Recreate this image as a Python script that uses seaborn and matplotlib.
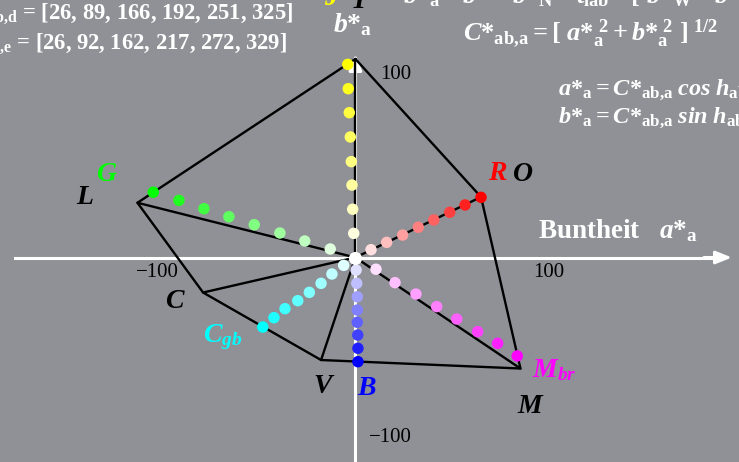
import numpy as np
import pandas as pd
import matplotlib
matplotlib.use("Agg")
import matplotlib.pyplot as plt
import seaborn as sns

# hue angles of the two colour sets (degrees)
hab_d = [26, 89, 166, 192, 251, 325]
hab_e = [26, 92, 162, 217, 272, 329]

# device hexagon in the (a*, b*) plane
vertex_names = ["Y", "O", "M", "V", "C", "L"]
vertex_a = [0.0, 73.9, 97.1, -20.2, -89.6, -128.2]
vertex_b = [116.8, 35.6, -65.3, -60.3, -20.6, 32.2]

# achromatic point N
achromatic_a = [0.0]
achromatic_b = [0.0]

# colour series, steps 1..8 from N outward
series_names = ["J", "R", "G", "Cgb", "B", "Mbr"]
series_rgb = [(1, 1, 0), (1, 0, 0), (0, 1, 0), (0, 1, 1), (0, 0, 1), (1, 0, 1)]
J_a = [-1.0, -1.6, -2.0, -2.4, -3.0, -3.6, -4.2, -4.5]
J_b = [14.2, 28.4, 42.6, 56.4, 70.9, 85.2, 99.3, 113.6]
R_a = [9.2, 18.4, 27.8, 37.0, 46.1, 55.5, 64.5, 73.9]
R_b = [4.6, 8.9, 13.2, 17.8, 22.1, 26.6, 30.9, 35.4]
G_a = [-14.8, -29.8, -44.4, -59.5, -74.4, -89.1, -103.8, -118.9]
G_b = [5.0, 9.7, 14.4, 19.3, 24.0, 28.7, 33.6, 38.4]
Cgb_a = [-6.9, -13.8, -20.2, -27.1, -33.9, -41.4, -47.9, -54.5]
Cgb_b = [-4.6, -9.7, -15.2, -20.5, -25.4, -30.1, -35.4, -40.9]
B_a = [0.4, 0.8, 1.1, 1.1, 1.1, 1.4, 1.5, 1.5]
B_b = [-7.4, -15.2, -23.1, -30.9, -38.1, -45.6, -53.4, -61.3]
Mbr_a = [12.1, 23.3, 35.6, 47.8, 59.6, 71.9, 83.7, 95.2]
Mbr_b = [-6.9, -14.8, -21.5, -28.9, -36.2, -43.6, -50.5, -57.9]

series_a = [J_a, R_a, G_a, Cgb_a, B_a, Mbr_a]
series_b = [J_b, R_b, G_b, Cgb_b, B_b, Mbr_b]

tick_values = [-100, -50, 50, 100]

BG = "#909196"
SERIF = "Liberation Serif"

sns.set_theme(style="white")
plt.rcParams["font.family"] = [SERIF, "DejaVu Sans"]
plt.rcParams["mathtext.fontset"] = "custom"
plt.rcParams["mathtext.rm"] = "Liberation Serif:bold"
plt.rcParams["mathtext.it"] = "Liberation Serif:italic:bold"
plt.rcParams["mathtext.bf"] = "Liberation Serif:bold"

fig = plt.figure(figsize=(7.39, 4.62), dpi=100, facecolor=BG)
ax = fig.add_axes([0, 0, 1, 1], facecolor=BG)
ax.set_xlim(-209.06, 225.65)
ax.set_ylim(-120.29, 151.47)

# axes through the origin
for side in ["top", "right"]:
    ax.spines[side].set_visible(False)
ax.spines["bottom"].set_position(("data", 0))
ax.spines["left"].set_position(("data", 0))
ax.spines["bottom"].set_bounds(-200.2, 214)
ax.spines["left"].set_bounds(-125, 112)
for side in ["bottom", "left"]:
    ax.spines[side].set_color("white")
    ax.spines[side].set_linewidth(2.2)
    ax.spines[side].set_zorder(1)
ax.set_xticks(tick_values)
ax.set_yticks(tick_values)
ax.tick_params(axis="x", direction="inout", length=7.2, width=1.3,
               color="black", labelbottom=False)
ax.tick_params(axis="y", direction="inout", length=11.5, width=1.3,
               color="black", labelleft=False)

arrow = dict(arrowstyle="-|>,head_length=0.8,head_width=0.32", color="white",
             lw=2.2, shrinkA=0, shrinkB=0)
ax.annotate("", xy=(221.5, 0), xytext=(205, 0), arrowprops=arrow, zorder=1.2)
ax.annotate("", xy=(0, 119.7), xytext=(0, 108), arrowprops=arrow, zorder=1.2)

# hexagon outline and spokes from N
hex_df = pd.DataFrame({"a": vertex_a + [vertex_a[0]],
                       "b": vertex_b + [vertex_b[0]]})
sns.lineplot(data=hex_df, x="a", y="b", sort=False, estimator=None,
             color="black", lw=1.7, ax=ax, zorder=3)
spoke_rows = []
for name, va, vb in zip(vertex_names, vertex_a, vertex_b):
    spoke_rows.append({"vertex": name, "a": achromatic_a[0], "b": achromatic_b[0]})
    spoke_rows.append({"vertex": name, "a": va, "b": vb})
spoke_df = pd.DataFrame(spoke_rows)
sns.lineplot(data=spoke_df, x="a", y="b", units="vertex", estimator=None,
             sort=False, color="black", lw=1.7, ax=ax, zorder=3)

# colour series dots, tinted from white towards the full colour
rows = []
palette = {}
for name, rgb, sa, sb in zip(series_names, series_rgb, series_a, series_b):
    n = len(sa)
    for k, (a, b) in enumerate(zip(sa, sb), start=1):
        key = f"{name}{k}"
        f = k / n
        palette[key] = tuple(1 - f * (1 - c) for c in rgb)
        rows.append({"key": key, "a": a, "b": b})
dots = pd.DataFrame(rows)
sns.scatterplot(data=dots, x="a", y="b", hue="key", palette=palette, s=68,
                linewidth=0, legend=False, ax=ax, zorder=4)
sns.scatterplot(x=achromatic_a, y=achromatic_b, color="white", s=90,
                linewidth=0, legend=False, ax=ax, zorder=5)
ax.set_xlabel("")
ax.set_ylabel("")

# tick labels
tick_kw = dict(color="black", fontsize=15, family=SERIF, ha="center", va="center")
ax.text(-116.4, -8.8, "\u2212100", **tick_kw)
ax.text(113.8, -9.1, "100", **tick_kw)
ax.text(23.8, 107.9, "100", **tick_kw)
ax.text(20.4, -105.9, "\u2212100", **tick_kw)

# vertex labels
lab_kw = dict(fontsize=20, family=SERIF, fontweight="bold", fontstyle="italic",
              va="baseline", ha="center")
for txt, x, y in [("L", -159.5, 31.5), ("C", -106.7, -29.9), ("V", -19.4, -79.7),
                  ("M", 102.7, -91.5), ("O", 98.6, 45.2), ("Y", 2.1, 146.8)]:
    ax.text(x, y, txt, color="black", **lab_kw)
ax.text(83.6, 45.6, "R", color="#ff0000", **lab_kw)
ax.text(-146.7, 45.2, "G", color="#00ff00", **lab_kw)
ax.text(6.8, -80.9, "B", color="#0000ff", **lab_kw)
ax.text(-14.4, 148.5, "J", color="#ffff00", **lab_kw)
ax.text(-89.5, -49.5, r"$C_{gb}$", color="#00ffff", fontsize=20,
        ha="left", va="baseline")
ax.text(103.7, -70.1, r"$M_{br}$", color="#ff00ff", fontsize=20,
        ha="left", va="baseline")

# white annotations
wkw = dict(color="white", family=SERIF, fontweight="bold", va="baseline")
ax.text(-36.5, 140.7, r"$h_{\mathrm{ab{,}d}}$ = [" + ", ".join(map(str, hab_d)) + "]",
        fontsize=16.3, ha="right", **wkw)
ax.text(-40.1, 123.1, r"$h_{\mathrm{ab{,}e}}$ = [" + ", ".join(map(str, hab_e)) + "]",
        fontsize=16.3, ha="right", **wkw)
ax.text(-13.2, 132.6, r"$b{*}_{\mathrm{a}}$", fontsize=20, ha="left", **wkw)
ax.text(28.0, 149.7,
        r"$b{*}_{\mathrm{a}} = b{*} - b{*}_{\mathrm{N}} - t_{\mathrm{lab*}}\ [\ b{*}_{\mathrm{W}} - b{*}_{\mathrm{N}}\ ]$",
        fontsize=19, ha="left", **wkw)
ax.text(63.3, 127.9,
        r"$C{*}_{\mathrm{ab{,}a}} = [\ a{*}_{\mathrm{a}}^{\ 2} + b{*}_{\mathrm{a}}^{\ 2}\ ]^{\ 1/2}$",
        fontsize=19, ha="left", **wkw)
ax.text(119.2, 95.6,
        r"$a{*}_{\mathrm{a}} = C{*}_{\mathrm{ab{,}a}}\;cos\;h_{\mathrm{ab{,}a}}$",
        fontsize=17.5, ha="left", **wkw)
ax.text(119.2, 79.1,
        r"$b{*}_{\mathrm{a}} = C{*}_{\mathrm{ab{,}a}}\;sin\;h_{\mathrm{ab{,}a}}$",
        fontsize=17.5, ha="left", **wkw)
ax.text(107.4, 11.5, r"Buntheit   $a{*}_{\mathrm{a}}$", fontsize=19.5, ha="left", **wkw)

fig.savefig("out.png", dpi=100, facecolor=BG)
